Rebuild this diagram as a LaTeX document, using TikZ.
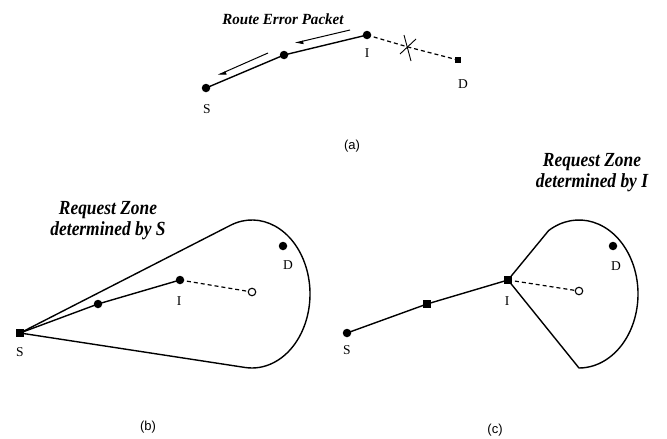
\documentclass[tikz,border=0pt]{standalone}
\usepackage{fontspec}
\setmainfont{Liberation Serif}
\setsansfont{Liberation Sans}
\usetikzlibrary{arrows.meta,calc}
\pgfdeclarelayer{bg}
\pgfsetlayers{bg,main}
\begin{document}
\begin{tikzpicture}[x=1pt,y=-1pt,
  dot/.style={circle,fill,inner sep=0pt,minimum size=8.5pt},
  sq/.style={rectangle,fill,inner sep=0pt,minimum size=7.5pt},
  smallsq/.style={rectangle,fill,inner sep=0pt,minimum size=6.5pt},
  odot/.style={circle,draw,fill=white,inner sep=0pt,minimum size=7.5pt,line width=1.1pt},
  lbl/.style={font=\fontsize{13.5}{14}\selectfont,inner sep=0pt},
  capt/.style={font=\sffamily\fontsize{13}{14}\selectfont,inner sep=0pt},
  ttl/.style={font=\fontsize{20}{21}\selectfont\bfseries\itshape,align=center,inner sep=0pt,xscale=0.87},
  pkt/.style={font=\fontsize{15.5}{16}\selectfont\bfseries\itshape,inner sep=0pt,xscale=0.97},
  link/.style={line width=1.4pt},
  dlink/.style={line width=1.2pt,dash pattern=on 4pt off 3pt},
  zone/.style={line width=1.4pt,line join=round},
  errarrow/.style={line width=1pt,-{Triangle[left,length=7pt,width=6pt]}}]
\useasboundingbox (0,0) rectangle (667,439);

% ---------------- (a) ----------------
\node[dot] (Sa) at (206,88) {};
\node[dot] (Ma) at (284,55) {};
\node[dot] (Ia) at (367,35) {};
\node[smallsq] (Da) at (458,60) {};
\coordinate (Xa) at (408,47);
\node[lbl] (SaL) at (207,109) {S};
\node[lbl] (IaL) at (367,53) {I};
\node[lbl] (DaL) at (463,84) {D};
\node[pkt] (pkt) at (283,19) {Route Error Packet};
\coordinate (A1s) at (350,30);
\coordinate (A1e) at (295,43);
\coordinate (A2s) at (268,53);
\coordinate (A2e) at (218,75);
\node[capt] (capa) at (352,146) {(a)};
\begin{pgfonlayer}{bg}
  \draw[link] (Sa.center) -- (Ma.center) -- (Ia.center);
  \draw[dlink] (Ia.center) -- (Xa) -- (Da.center);
  \draw[line width=0.9pt] ($(Xa)+(-4,-12)$) -- ($(Xa)+(3,14)$);
  \draw[line width=0.9pt] ($(Xa)+(-8,7)$) -- ($(Xa)+(8,-8)$);
  \draw[errarrow] (A1s) -- (A1e);
  \draw[errarrow] (A2s) -- (A2e);
\end{pgfonlayer}

% ---------------- (b) ----------------
\node[sq] (Sb) at (20,333) {};
\node[dot] (Mb) at (98,304) {};
\node[dot] (Ib) at (180,280) {};
\node[odot] (Ob) at (252,292) {};
\node[dot] (Db) at (283,246) {};
\node[lbl] (SbL) at (20,352) {S};
\node[lbl] (IbL) at (179,301) {I};
\node[lbl] (DbL) at (288,265) {D};
\node[ttl] (ttlb) at (108,221) {Request Zone\\determined by S};
\node[capt] (capb) at (148,427) {(b)};
\coordinate (Cb) at ($(Ob)+(0,2)$);
\coordinate (Tb) at ($(Cb)+(248.15:58 and 74)$);
\begin{pgfonlayer}{bg}
  \draw[zone] (Sb.center) -- (Tb) arc[start angle=248.15,end angle=456.85,x radius=58,y radius=74] -- cycle;
  \draw[link] (Sb.center) -- (Mb.center) -- (Ib.center);
  \draw[dlink] (Ib.center) -- (Ob.center);
\end{pgfonlayer}

% ---------------- (c) ----------------
\node[dot] (Sc) at (347,333) {};
\node[sq] (Mc) at (427,304) {};
\node[sq] (Ic) at (508,280) {};
\node[odot] (Oc) at (579,291) {};
\node[dot] (Dc) at (613,246) {};
\node[lbl] (ScL) at (347,350) {S};
\node[lbl] (IcL) at (507,301) {I};
\node[lbl] (DcL) at (616,266) {D};
\node[ttl] (ttlc) at (592,173) {Request Zone\\determined by I};
\node[capt] (capc) at (495,430) {(c)};
\coordinate (Cc) at ($(Oc)+(0,3)$);
\coordinate (Tc) at ($(Cc)+(239:59 and 74)$);
\begin{pgfonlayer}{bg}
  \draw[zone] (Ic.center) -- (Tc) arc[start angle=239,end angle=450,x radius=59,y radius=74] -- cycle;
  \draw[link] (Sc.center) -- (Mc.center) -- (Ic.center);
  \draw[dlink] (Ic.center) -- (Oc.center);
\end{pgfonlayer}
\end{tikzpicture}
\end{document}
